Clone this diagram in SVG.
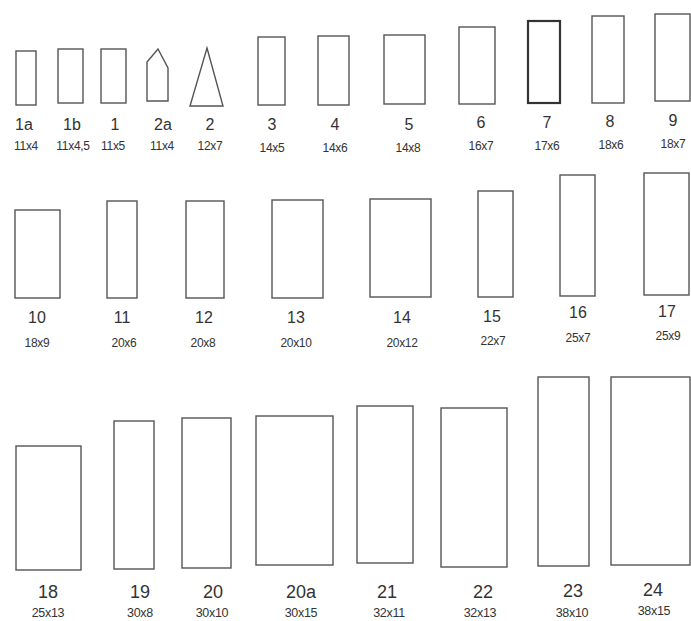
<svg xmlns="http://www.w3.org/2000/svg" width="691" height="621" viewBox="0 0 691 621">
<style>
.s{fill:#fff;stroke:#555;stroke-width:1.4}
.b{stroke:#333;stroke-width:2.2}
text{font-family:"Liberation Sans",Arial,sans-serif;fill:#333;text-anchor:middle}
.n{font-size:16px}
.m{font-size:12px;letter-spacing:-0.3px}
.n3{font-size:18px}
.m3{font-size:12.5px;letter-spacing:-0.3px}
</style>
<rect width="691" height="621" fill="#fff"/>
<g id="connectors"/>
<!-- Row 1 -->
<g id="n1a"><rect class="s" x="16" y="51" width="20" height="54"/><text class="n" x="24" y="130">1a</text><text class="m" x="26" y="150">11x4</text></g>
<g id="n1b"><rect class="s" x="58" y="49" width="25" height="54"/><text class="n" x="72" y="130">1b</text><text class="m" x="73" y="150">11x4,5</text></g>
<g id="n1"><rect class="s" x="101" y="49" width="25" height="54"/><text class="n" x="115" y="130">1</text><text class="m" x="113" y="150">11x5</text></g>
<g id="n2a"><polygon class="s" points="158,49 168,68 168,101 147,101 147,62"/><text class="n" x="163" y="130">2a</text><text class="m" x="162" y="150">11x4</text></g>
<g id="n2"><polygon class="s" points="207,48 223,106 190,106"/><text class="n" x="210" y="130">2</text><text class="m" x="210" y="150">12x7</text></g>
<g id="n3"><rect class="s" x="258" y="37" width="27" height="68"/><text class="n" x="272" y="130">3</text><text class="m" x="272" y="152">14x5</text></g>
<g id="n4"><rect class="s" x="318" y="36" width="31" height="69"/><text class="n" x="335" y="130">4</text><text class="m" x="335" y="152">14x6</text></g>
<g id="n5"><rect class="s" x="384" y="35" width="41" height="69"/><text class="n" x="409" y="130">5</text><text class="m" x="408" y="152">14x8</text></g>
<g id="n6"><rect class="s" x="459" y="27" width="36" height="77"/><text class="n" x="481" y="128">6</text><text class="m" x="481" y="150">16x7</text></g>
<g id="n7"><rect class="s b" x="528" y="21" width="32" height="82"/><text class="n" x="547" y="128">7</text><text class="m" x="547" y="150">17x6</text></g>
<g id="n8"><rect class="s" x="592" y="16" width="32" height="87"/><text class="n" x="610" y="127">8</text><text class="m" x="611" y="149">18x6</text></g>
<g id="n9"><rect class="s" x="655" y="14" width="35" height="87"/><text class="n" x="673" y="126">9</text><text class="m" x="673" y="148">18x7</text></g>
<!-- Row 2 -->
<g id="n10"><rect class="s" x="15" y="210" width="45" height="88"/><text class="n" x="37" y="323">10</text><text class="m" x="37" y="347">18x9</text></g>
<g id="n11"><rect class="s" x="107" y="201" width="30" height="97"/><text class="n" x="122" y="323">11</text><text class="m" x="124" y="347">20x6</text></g>
<g id="n12"><rect class="s" x="186" y="201" width="38" height="97"/><text class="n" x="204" y="323">12</text><text class="m" x="203" y="347">20x8</text></g>
<g id="n13"><rect class="s" x="272" y="200" width="51" height="98"/><text class="n" x="296" y="323">13</text><text class="m" x="296" y="347">20x10</text></g>
<g id="n14"><rect class="s" x="370" y="199" width="61" height="98"/><text class="n" x="402" y="323">14</text><text class="m" x="402" y="347">20x12</text></g>
<g id="n15"><rect class="s" x="478" y="191" width="35" height="106"/><text class="n" x="492" y="322">15</text><text class="m" x="493" y="345">22x7</text></g>
<g id="n16"><rect class="s" x="560" y="175" width="35" height="121"/><text class="n" x="578" y="318">16</text><text class="m" x="578" y="342">25x7</text></g>
<g id="n17"><rect class="s" x="644" y="173" width="45" height="122"/><text class="n" x="667" y="317">17</text><text class="m" x="668" y="340">25x9</text></g>
<!-- Row 3 -->
<g id="n18"><rect class="s" x="16" y="446" width="65" height="124"/><text class="n3" x="48" y="598">18</text><text class="m3" x="48" y="617">25x13</text></g>
<g id="n19"><rect class="s" x="114" y="421" width="40" height="148"/><text class="n3" x="140" y="598">19</text><text class="m3" x="140" y="617">30x8</text></g>
<g id="n20"><rect class="s" x="182" y="418" width="49" height="150"/><text class="n3" x="213" y="598">20</text><text class="m3" x="212" y="617">30x10</text></g>
<g id="n20a"><rect class="s" x="256" y="416" width="77" height="149"/><text class="n3" x="301" y="598">20a</text><text class="m3" x="301" y="617">30x15</text></g>
<g id="n21"><rect class="s" x="357" y="406" width="56" height="157"/><text class="n3" x="387" y="598">21</text><text class="m3" x="389" y="617">32x11</text></g>
<g id="n22"><rect class="s" x="441" y="408" width="66" height="159"/><text class="n3" x="483" y="598">22</text><text class="m3" x="480" y="617">32x13</text></g>
<g id="n23"><rect class="s" x="538" y="377" width="51" height="189"/><text class="n3" x="573" y="597">23</text><text class="m3" x="572" y="617">38x10</text></g>
<g id="n24"><rect class="s" x="611" y="377" width="79" height="188"/><text class="n3" x="653" y="596">24</text><text class="m3" x="654" y="615">38x15</text></g>
</svg>
